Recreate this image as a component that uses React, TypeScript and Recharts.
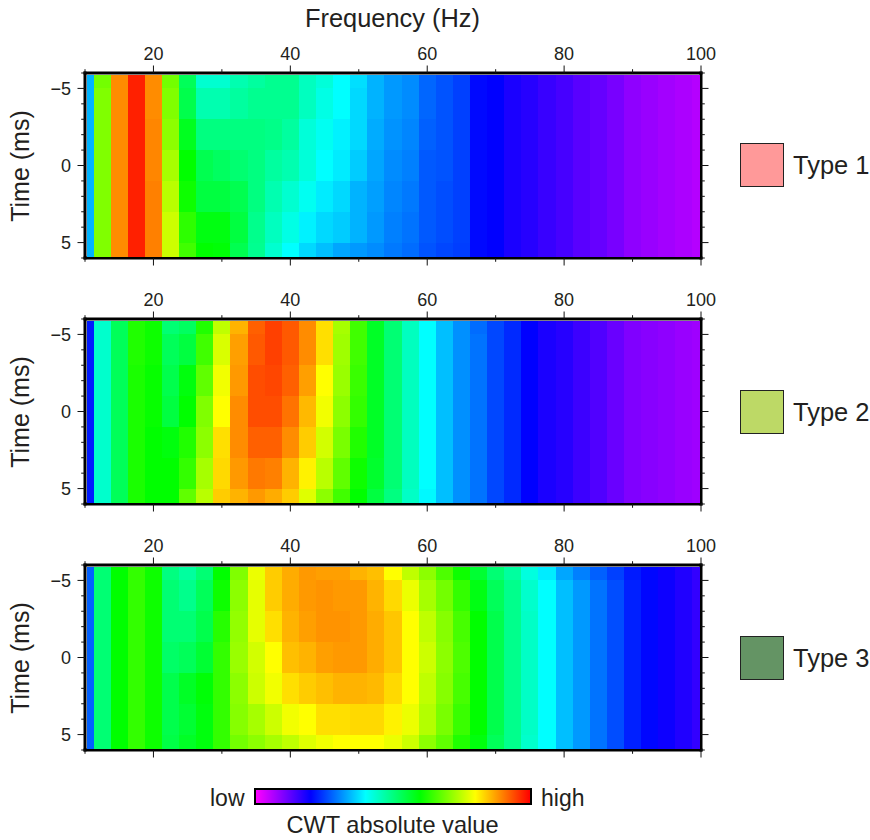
import React from 'react';
import { ScatterChart, Scatter, XAxis, YAxis } from 'recharts';

const FONT = '"Liberation Sans", Helvetica, Arial, sans-serif';
const TEXT = '#231f20';

const frequencies = [10, 12.5, 15, 17.5, 20, 22.5, 25, 27.5, 30, 32.5, 35, 37.5, 40, 42.5, 45, 47.5, 50, 52.5, 55, 57.5, 60, 62.5, 65, 67.5, 70, 72.5, 75, 77.5, 80, 82.5, 85, 87.5, 90, 92.5, 95, 97.5, 100];
const times = [-6, -4, -2, 0, 2, 4, 6];
const xTicks = [10, 20, 30, 40, 50, 60, 70, 80, 90, 100];
const xLabelled = [20, 40, 60, 80, 100];
const yTicks = [-6, -5, -4, -3, -2, -1, 0, 1, 2, 3, 4, 5, 6];
const yLabelled = [-5, 0, 5];

// colour scale: low -> high
const paletteStops = ['#ff00ff', '#0000ff', '#00ffff', '#00ff00', '#ffff00', '#ff0000'];

// one line per frequency, one value (0..100 of the colour scale) per time
const type1Grid = [
  [34, 34, 34, 34, 34, 34, 34],
  [69, 70, 70, 70, 70, 70, 70],
  [89, 89, 89, 89, 89, 89, 89],
  [97.5, 97.5, 97.5, 97.5, 97.5, 97.5, 97.5],
  [89, 89, 89.5, 89.5, 90, 90, 90],
  [69, 70, 71, 73, 74.5, 76, 76],
  [53, 54, 57.5, 60, 61, 63.5, 65],
  [43.7, 46.2, 50, 53.7, 55, 58.7, 60],
  [43.7, 46.2, 50, 52.5, 55, 58.7, 59.5],
  [46.2, 47.5, 50, 51.2, 53.7, 55, 53.7],
  [47.5, 48.7, 50, 50, 50, 49, 48.7],
  [48.7, 48.7, 49.3, 47.5, 46.2, 45, 43.7],
  [48.7, 48.7, 47.5, 46.2, 43.7, 42, 40],
  [45, 45, 43, 43, 41, 39, 37],
  [43, 42, 41, 40, 38.5, 37, 35],
  [40, 40, 39, 38.5, 37, 36, 33],
  [37.5, 37, 37, 36, 34, 34, 32],
  [34, 34, 33.5, 33, 32.5, 32, 31],
  [32, 32, 31.5, 31, 30.5, 30, 29.5],
  [31, 31, 30.5, 30, 29.5, 29, 28.5],
  [28, 28, 27.5, 27, 27, 27, 26.5],
  [26.5, 26.5, 26.5, 26.5, 26, 26, 25.5],
  [25, 25, 25, 25, 25, 25, 24.8],
  [20.6, 20.6, 20.6, 20.6, 20.6, 20.6, 20.6],
  [20, 20, 20, 20, 20, 20, 20],
  [18, 18, 18, 18, 18, 18, 18],
  [17, 17, 17, 17, 17, 17, 17],
  [15.6, 15.6, 15.6, 15.6, 15.6, 15.6, 15.6],
  [14.5, 14.5, 14.5, 14.5, 14.5, 14.5, 14.5],
  [13, 13, 13, 13, 13, 13, 13],
  [12, 12, 12, 12, 12, 12, 12],
  [10.6, 10.6, 10.6, 10.6, 10.6, 10.6, 10.6],
  [8.8, 8.8, 8.8, 8.8, 8.8, 8.8, 8.8],
  [8, 8, 8, 8, 8, 8, 8],
  [7.2, 7.2, 7.2, 7.2, 7.2, 7.2, 7.2],
  [6.5, 6.5, 6.5, 6.5, 6.5, 6.5, 6.5],
  [5.8, 5.8, 5.8, 5.8, 5.8, 5.8, 5.8],
];

const type2Grid = [
  [22, 22, 22, 22, 22, 22, 22],
  [44, 44, 44, 44, 44, 44, 44],
  [53, 53, 53, 53, 53, 53, 53],
  [62.5, 62.5, 62, 62, 62, 62, 62],
  [61, 61, 60.5, 60.5, 60, 60, 60],
  [51, 53, 54, 55, 59, 60, 60],
  [52.5, 55, 59, 60, 62.5, 64, 67.5],
  [62.5, 65, 67.5, 70, 71, 73, 74.5],
  [75, 77, 79, 80, 82.5, 83, 84],
  [86, 87.5, 88, 89, 89, 88, 86],
  [92.5, 93, 94, 94, 92.5, 90.5, 88],
  [95, 95, 94.5, 94, 92.5, 90, 86.5],
  [93, 93, 92.5, 91, 89, 86, 84],
  [89, 89, 87.5, 85.5, 84, 81, 77.5],
  [82.5, 82.5, 80, 79, 76.5, 74.5, 71],
  [73, 72.5, 72, 71, 69.5, 67.5, 65],
  [65, 65, 64.5, 64, 62.5, 61, 60],
  [57, 57, 57, 57, 57, 56.5, 55],
  [51, 51, 51, 51, 51, 51, 50],
  [45, 45, 45, 45, 45, 45, 44.5],
  [40, 40, 40, 40, 40, 40, 39.5],
  [35, 35, 35, 35, 35, 35, 35],
  [31.3, 31.3, 31.3, 31.3, 31.3, 31.3, 31.3],
  [28.5, 29, 29, 29, 29, 29, 29],
  [25.6, 25.6, 25.6, 25.6, 25.6, 25.6, 25.6],
  [23.2, 23.2, 23.2, 23.2, 23.2, 23.2, 23.2],
  [20, 20, 20, 20, 20, 20, 20],
  [18, 18, 18, 18, 18, 18, 18],
  [17, 17, 17, 17, 17, 17, 17],
  [15.3, 15.3, 15.3, 15.3, 15.3, 15.3, 15.3],
  [13.7, 13.7, 13.7, 13.7, 13.7, 13.7, 13.7],
  [11.8, 11.8, 11.8, 11.8, 11.8, 11.8, 11.8],
  [10, 10, 10, 10, 10, 10, 10],
  [9.3, 9.3, 9.3, 9.3, 9.3, 9.3, 9.3],
  [8.8, 8.8, 8.8, 8.8, 8.8, 8.8, 8.8],
  [8, 8, 8, 8, 8, 8, 8],
  [7.5, 7.5, 7.5, 7.5, 7.5, 7.5, 7.5],
];

const type3Grid = [
  [27.5, 27.5, 27.5, 27.5, 27.5, 27.5, 27.5],
  [51, 51, 51, 51, 51, 51, 51],
  [60, 60, 60, 60, 60, 60, 60],
  [64, 64, 64, 64, 64, 64, 64],
  [61, 61, 61, 61, 61, 61, 61],
  [50, 51, 51, 52, 54, 54, 54.5],
  [47.5, 49, 51, 53, 57, 56, 57],
  [51, 53, 54, 56, 59.5, 59, 59],
  [60, 61, 63, 64, 64, 64, 64],
  [70, 71, 71.5, 72, 71, 70.5, 69],
  [78.5, 78, 78, 76.5, 76, 73, 71],
  [84, 84, 82.5, 80, 79, 76, 73],
  [86.5, 86.5, 86, 85, 82.5, 79, 75],
  [88, 88, 87.5, 86, 84, 80, 77.5],
  [87.5, 88.5, 88.5, 87.5, 85, 82.5, 79],
  [87.5, 88, 88.5, 88, 86, 82.5, 80],
  [86, 88, 88, 88, 86, 83, 80],
  [85, 86, 86.5, 86.5, 85.5, 83, 80],
  [80, 83, 84.5, 84.5, 83, 81, 78.5],
  [75, 78.5, 80, 80, 80, 78.5, 76],
  [71, 73, 75, 76, 75, 74, 71],
  [66, 69, 70.5, 71, 70.5, 69.5, 67.5],
  [61, 64, 65.5, 66, 65.5, 64.5, 62.5],
  [56, 58.5, 60, 60, 60, 60, 59],
  [51, 53, 54, 54, 54, 54, 53],
  [47.5, 49, 49, 49, 49, 49, 49],
  [42.5, 44, 44.5, 44.5, 44.5, 44.5, 44],
  [38.5, 40, 40, 40, 40, 40, 40],
  [33, 35, 35, 35, 35, 35, 35],
  [30, 32, 32, 32, 32, 32, 32],
  [27.5, 29, 29, 29, 29, 29, 29],
  [25, 26, 26, 26, 26, 26, 26],
  [22, 22.5, 22.5, 22.5, 22.5, 22.5, 22.5],
  [20.5, 20.5, 20.5, 20.5, 20.5, 20.5, 20.5],
  [19, 19, 19, 19, 19, 19, 19],
  [17.5, 17.5, 17.5, 17.5, 17.5, 17.5, 17.5],
  [16, 16, 16, 16, 16, 16, 16],
];

const typeNames = ['Type 1', 'Type 2', 'Type 3'];
const typeColors = ['#ff9999', '#bdd966', '#649464'];
const typeGrids = [type1Grid, type2Grid, type3Grid];

// layout
const PANEL_TOP = [33, 279, 525];
const SWATCH_TOP = [143, 390, 636];
const CHART_W = 870;
const CHART_H = 246;
const AXIS_TOP = 40;
const AXIS_BOTTOM = 21;
const AXIS_LEFT = 85;
const AXIS_RIGHT = 40;
const PLOT_W = 616;
const PLOT_H = CHART_H - AXIS_TOP - AXIS_BOTTOM;
const CELL_W = (PLOT_W * 2.5) / 90;
const CELL_H = (PLOT_H * 2) / 12;
const FRAME = 3;

function colourOf(value: number): string {
  const t = Math.max(0, Math.min(0.99999, value / 100)) * (paletteStops.length - 1);
  const i = Math.floor(t);
  const f = t - i;
  const hex = (s: string, k: number) => parseInt(s.slice(1 + k * 2, 3 + k * 2), 16);
  const c = [0, 1, 2].map((k) => Math.round(hex(paletteStops[i], k) * (1 - f) + hex(paletteStops[i + 1], k) * f));
  return `rgb(${c[0]},${c[1]},${c[2]})`;
}

function pointsOf(grid: number[][]) {
  const out: { freq: number; time: number; value: number }[] = [];
  frequencies.forEach((freq, i) => {
    times.forEach((time, j) => {
      out.push({ freq, time, value: grid[i][j] });
    });
  });
  return out;
}

function HeatCell(props: any) {
  const { cx, cy, payload } = props;
  if (cx == null || cy == null) return null;
  // cells stop at the inner side of the frame, so the frame stays fully visible
  const inset = FRAME / 2;
  const left = Math.max(cx - CELL_W / 2, AXIS_LEFT + inset);
  const right = Math.min(cx + CELL_W / 2 + 0.4, AXIS_LEFT + PLOT_W - inset);
  const top = Math.max(cy - CELL_H / 2, AXIS_TOP + inset);
  const bottom = Math.min(cy + CELL_H / 2 + 0.4, AXIS_TOP + PLOT_H - inset);
  return (
    <rect
      x={left}
      y={top}
      width={right - left}
      height={bottom - top}
      fill={colourOf(payload.value)}
      shapeRendering="crispEdges"
    />
  );
}

function HTick(props: any) {
  const { x, y, payload, side } = props;
  const major = xLabelled.includes(payload.value);
  const dir = side === 'top' ? -1 : 1;
  const len = major ? 7.5 : 3.8;
  return (
    <g>
      <line x1={x} x2={x} y1={y} y2={y + dir * len} stroke="#111" strokeWidth={1} />
      {side === 'top' && major ? (
        <text x={x} y={y - 13} textAnchor="middle" fontSize={18} fontFamily={FONT} fill={TEXT}>
          {payload.value}
        </text>
      ) : null}
    </g>
  );
}

function VTick(props: any) {
  const { x, y, payload, side } = props;
  const major = yLabelled.includes(payload.value);
  const dir = side === 'left' ? -1 : 1;
  const len = major ? 7.5 : 3.8;
  const label = payload.value < 0 ? `\u2212${Math.abs(payload.value)}` : `${payload.value}`;
  return (
    <g>
      <line x1={x} x2={x + dir * len} y1={y} y2={y} stroke="#111" strokeWidth={1} />
      {side === 'left' && major ? (
        <text x={x - 14} y={y + 6.5} textAnchor="end" fontSize={18} fontFamily={FONT} fill={TEXT}>
          {label}
        </text>
      ) : null}
    </g>
  );
}

const frameLine = { stroke: '#000', strokeWidth: FRAME, strokeLinecap: 'square' as const };

function Panel({ grid, top }: { grid: number[][]; top: number }) {
  const data = pointsOf(grid);
  return (
    <div style={{ position: 'absolute', left: 0, top }}>
      <ScatterChart width={CHART_W} height={CHART_H} margin={{ top: 0, right: CHART_W - AXIS_LEFT - PLOT_W - AXIS_RIGHT, bottom: 0, left: 0 }}>
        <XAxis xAxisId="t" orientation="top" type="number" dataKey="freq" domain={[10, 100]} ticks={xTicks} interval={0} height={AXIS_TOP} tickSize={0} tickMargin={0} tickLine={false} axisLine={frameLine} tick={<HTick side="top" />} allowDataOverflow />
        <XAxis xAxisId="b" orientation="bottom" type="number" dataKey="freq" domain={[10, 100]} ticks={xTicks} interval={0} height={AXIS_BOTTOM} tickSize={0} tickMargin={0} tickLine={false} axisLine={frameLine} tick={<HTick side="bottom" />} allowDataOverflow />
        <YAxis yAxisId="l" orientation="left" type="number" dataKey="time" reversed domain={[-6, 6]} ticks={yTicks} interval={0} width={AXIS_LEFT} tickSize={0} tickMargin={0} tickLine={false} axisLine={frameLine} tick={<VTick side="left" />} allowDataOverflow />
        <YAxis yAxisId="r" orientation="right" type="number" dataKey="time" reversed domain={[-6, 6]} ticks={yTicks} interval={0} width={AXIS_RIGHT} tickSize={0} tickMargin={0} tickLine={false} axisLine={frameLine} tick={<VTick side="right" />} allowDataOverflow />
        <Scatter data={data} xAxisId="t" yAxisId="l" shape={<HeatCell />} isAnimationActive={false} />
      </ScatterChart>
    </div>
  );
}

const label = (style: React.CSSProperties, text: string, size = 24) => (
  <div style={{ position: 'absolute', fontFamily: FONT, fontSize: size, color: TEXT, whiteSpace: 'nowrap', lineHeight: 1, ...style }}>{text}</div>
);

export default function App() {
  return (
    <div style={{ position: 'absolute', left: 0, top: 0, width: 870, height: 840, background: '#fff', overflow: 'hidden' }}>
      {typeGrids.map((grid, i) => (
        <Panel key={typeNames[i]} grid={grid} top={PANEL_TOP[i]} />
      ))}
      {label({ left: 392.5, top: 5.5, transform: 'translateX(-50%)' }, 'Frequency (Hz)', 25.4)}
      {PANEL_TOP.map((t, i) => (
        <React.Fragment key={t}>
          <div style={{ position: 'absolute', left: 20, top: t + AXIS_TOP + PLOT_H / 2, transform: 'translate(-50%,-50%) rotate(-90deg)', fontFamily: FONT, fontSize: 25, color: TEXT, whiteSpace: 'nowrap', lineHeight: 1 }}>Time (ms)</div>
          <div style={{ position: 'absolute', left: 740, top: SWATCH_TOP[i], width: 44, height: 44, boxSizing: 'border-box', background: typeColors[i], border: '1px solid #222' }} />
          {label({ left: 793, top: SWATCH_TOP[i] + 10 }, typeNames[i], 25.5)}
        </React.Fragment>
      ))}
      <div style={{ position: 'absolute', left: 254, top: 788, width: 278, height: 17, boxSizing: 'border-box', border: '2px solid #000', background: `linear-gradient(to right, ${paletteStops.join(', ')})` }} />
      {label({ left: 210, top: 786.5 }, 'low', 23)}
      {label({ left: 541, top: 786.5 }, 'high', 23)}
      {label({ left: 392.5, top: 813.5, transform: 'translateX(-50%)' }, 'CWT absolute value', 23.6)}
    </div>
  );
}
